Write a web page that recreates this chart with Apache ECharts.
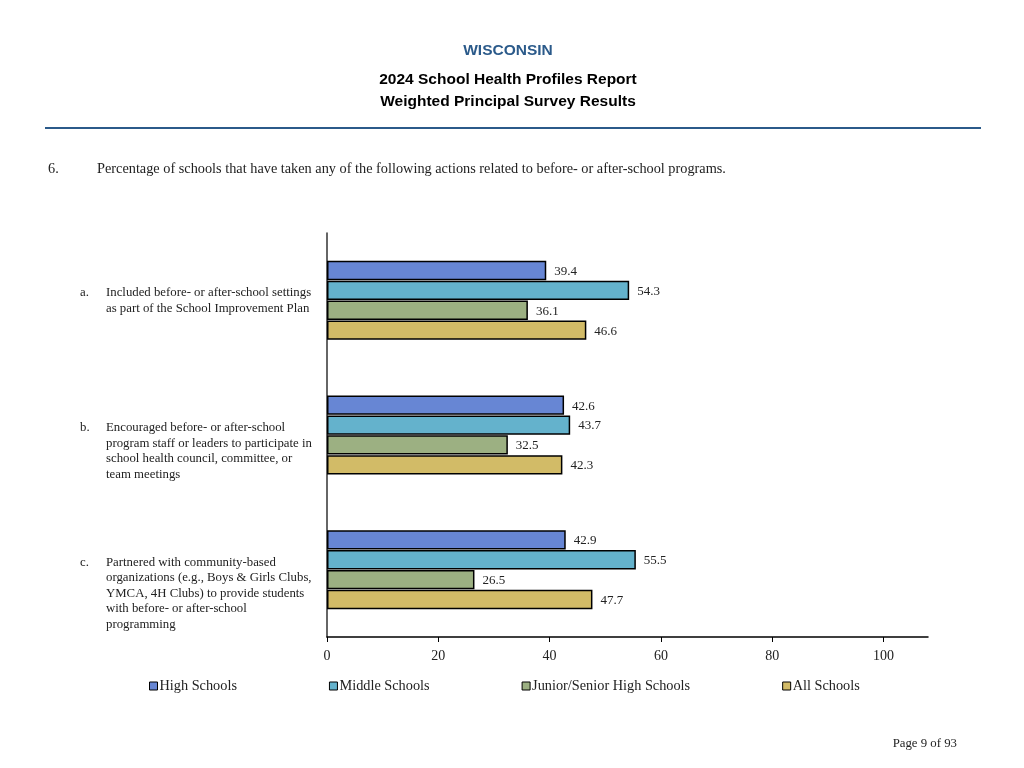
<!DOCTYPE html>
<html><head><meta charset="utf-8">
<script src="https://cdn.jsdelivr.net/npm/echarts@6/dist/echarts.min.js"></script>
<style>html,body{margin:0;padding:0;background:#fff}#c{width:1024px;height:768px}</style>
</head><body><div id="c"></div>
<script>
const letters = ['a.', 'b.', 'c.'];
const categoryLines = [
  ['Included before- or after-school settings', 'as part of the School Improvement Plan'],
  ['Encouraged before- or after-school', 'program staff or leaders to participate in', 'school health council, committee, or', 'team meetings'],
  ['Partnered with community-based', 'organizations (e.g., Boys & Girls Clubs,', 'YMCA, 4H Clubs) to provide students', 'with before- or after-school', 'programming']
];
const seriesNames = ['High Schools', 'Middle Schools', 'Junior/Senior High Schools', 'All Schools'];
const highSchools = [39.4, 42.6, 42.9];
const middleSchools = [54.3, 43.7, 55.5];
const juniorSeniorHigh = [36.1, 32.5, 26.5];
const allSchools = [46.6, 42.3, 47.7];
const xTicks = [0, 20, 40, 60, 80, 100];
const colors = ['#6786d4', '#64b2cc', '#9cb082', '#d2bb67'];

const categories = letters.map((l, i) => i);
const seriesData = [highSchools, middleSchools, juniorSeniorHigh, allSchools];
const serif = '"Liberation Serif", "Times New Roman", serif';
const sans = '"Liberation Sans", Arial, sans-serif';

function header(text, y, color) {
  return {type: 'text', x: 508, y: y, style: {text: text, fill: color, font: 'bold 15.5px ' + sans, textAlign: 'center', textVerticalAlign: 'middle'}};
}

const chart = echarts.init(document.getElementById('c'));
chart.setOption({
  animation: false,
  backgroundColor: '#fff',
  title: [
    {text: '6.', left: 43, top: 157, textStyle: {color: '#222', fontFamily: serif, fontWeight: 'normal', fontSize: 14.3}},
    {text: 'Percentage of schools that have taken any of the following actions related to before- or after-school programs.', left: 92, top: 157, textStyle: {color: '#222', fontFamily: serif, fontWeight: 'normal', fontSize: 14.3}},
    {text: 'Page 9 of 93', right: 62, top: 732, textStyle: {color: '#222', fontFamily: serif, fontWeight: 'normal', fontSize: 12.8}}
  ],
  graphic: [
    header('WISCONSIN', 51, '#2b5a8a'),
    header('2024 School Health Profiles Report', 80, '#000'),
    header('Weighted Principal Survey Results', 102, '#000'),
    {type: 'line', shape: {x1: 45, y1: 128, x2: 981, y2: 128}, style: {stroke: '#2b5a8a', lineWidth: 2}}
  ],
  legend: {
    left: 144, top: 674,
    itemWidth: 8, itemHeight: 8, itemGap: 92,
    icon: 'rect',
    textStyle: {fontFamily: serif, fontSize: 14.3, color: '#222', padding: [0, 0, 0, -3]},
    itemStyle: {borderColor: '#000', borderWidth: 1},
    data: seriesNames
  },
  grid: {left: 327, right: 96, top: 233, bottom: 131, containLabel: false},
  xAxis: {
    type: 'value', min: 0, max: 108, interval: 20,
    splitLine: {show: false},
    axisLine: {show: true, lineStyle: {color: '#000', width: 1.5}},
    axisTick: {show: true, length: 5, customValues: xTicks, lineStyle: {color: '#000'}},
    axisLabel: {customValues: xTicks, fontFamily: serif, fontSize: 14, color: '#222', margin: 12}
  },
  yAxis: {
    type: 'category', inverse: true, data: categories,
    axisLine: {show: true, lineStyle: {color: '#333', width: 1.5}},
    axisTick: {show: false},
    axisLabel: {
      align: 'left', verticalAlign: 'top', margin: 247,
      padding: [-15, 0, 0, 0],
      fontFamily: serif, fontSize: 12.8, color: '#222', lineHeight: 15.5,
      formatter: (v) => {
        const i = +v;
        return categoryLines[i].map((line, k) =>
          '{l|' + (k === 0 ? letters[i] : '\u00a0') + '}{t|' + line + '}').join('\n');
      },
      rich: {
        l: {width: 26, fontFamily: serif, fontSize: 12.8, color: '#222', lineHeight: 15.5},
        t: {fontFamily: serif, fontSize: 12.8, color: '#222', lineHeight: 15.5}
      }
    }
  },
  series: seriesData.map((d, i) => ({
    name: seriesNames[i], type: 'bar', data: d,
    barWidth: 19.3, barGap: '3%',
    itemStyle: {color: colors[i], borderColor: '#000', borderWidth: 1.5},
    label: {show: true, position: 'right', distance: 8, offset: [0, 1], fontFamily: serif, fontSize: 13, color: '#222', formatter: (p) => p.value.toFixed(1)}
  }))
});
</script></body></html>
